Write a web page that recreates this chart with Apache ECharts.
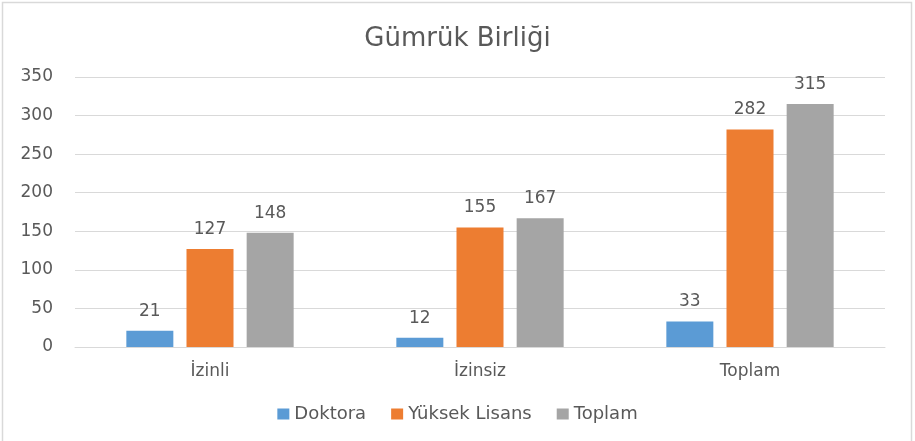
<!DOCTYPE html>
<html>
<head>
<meta charset="utf-8">
<script src="https://cdn.jsdelivr.net/npm/echarts@6/dist/echarts.min.js"></script>
<style>
  html, body { margin: 0; padding: 0; background: #ffffff; }
  #chart { width: 915px; height: 441px; }
</style>
</head>
<body>
<div id="chart"></div>
<script>
// Kategoriler ve seri değerleri
const categories = ['İzinli', 'İzinsiz', 'Toplam'];
const doktora = [21, 12, 33];
const yuksekLisans = [127, 155, 282];
const toplam = [148, 167, 315];
const yTicks = [0, 50, 100, 150, 200, 250, 300, 350];

const textColor = '#595959';
const font = 'DejaVu Sans';

const chart = echarts.init(document.getElementById('chart'));

function barSeries(name, data, color) {
  return {
    name: name,
    type: 'bar',
    data: data,
    barWidth: 47,
    barGap: '28%',
    itemStyle: { color: color },
    label: {
      show: true,
      position: 'top',
      distance: 11,
      color: textColor,
      fontFamily: font,
      fontSize: 17
    }
  };
}

chart.setOption({
  animation: false,
  backgroundColor: '#ffffff',
  title: {
    text: 'Gümrük Birliği',
    left: 'center',
    top: 21,
    textStyle: {
      color: textColor,
      fontFamily: font,
      fontWeight: 'normal',
      fontSize: 26
    }
  },
  legend: {
    top: 400,
    left: 'center',
    itemWidth: 12,
    itemHeight: 11,
    itemGap: 25,
    icon: 'rect',
    textStyle: { color: textColor, fontFamily: font, fontSize: 18 },
    data: ['Doktora', 'Yüksek Lisans', 'Toplam']
  },
  grid: { left: 75, right: 30, top: 77, bottom: 94 },
  xAxis: {
    type: 'category',
    data: categories,
    axisTick: { show: false },
    axisLine: { lineStyle: { color: '#d9d9d9' } },
    axisLabel: { color: textColor, fontFamily: font, fontSize: 17, margin: 16 }
  },
  yAxis: {
    type: 'value',
    min: yTicks[0],
    max: yTicks[yTicks.length - 1],
    interval: 50,
    axisLine: { show: false },
    axisTick: { show: false },
    splitLine: { lineStyle: { color: '#d9d9d9', width: 1 } },
    axisLabel: { color: textColor, fontFamily: font, fontSize: 17, margin: 22 }
  },
  graphic: [{
    type: 'rect',
    shape: { x: 2.5, y: 2.5, width: 909, height: 445 },
    style: { fill: 'none', stroke: '#d9d9d9', lineWidth: 1.5 },
    silent: true
  }],
  series: [
    barSeries('Doktora', doktora, '#5b9bd5'),
    barSeries('Yüksek Lisans', yuksekLisans, '#ed7d31'),
    barSeries('Toplam', toplam, '#a5a5a5')
  ]
});
</script>
</body>
</html>
